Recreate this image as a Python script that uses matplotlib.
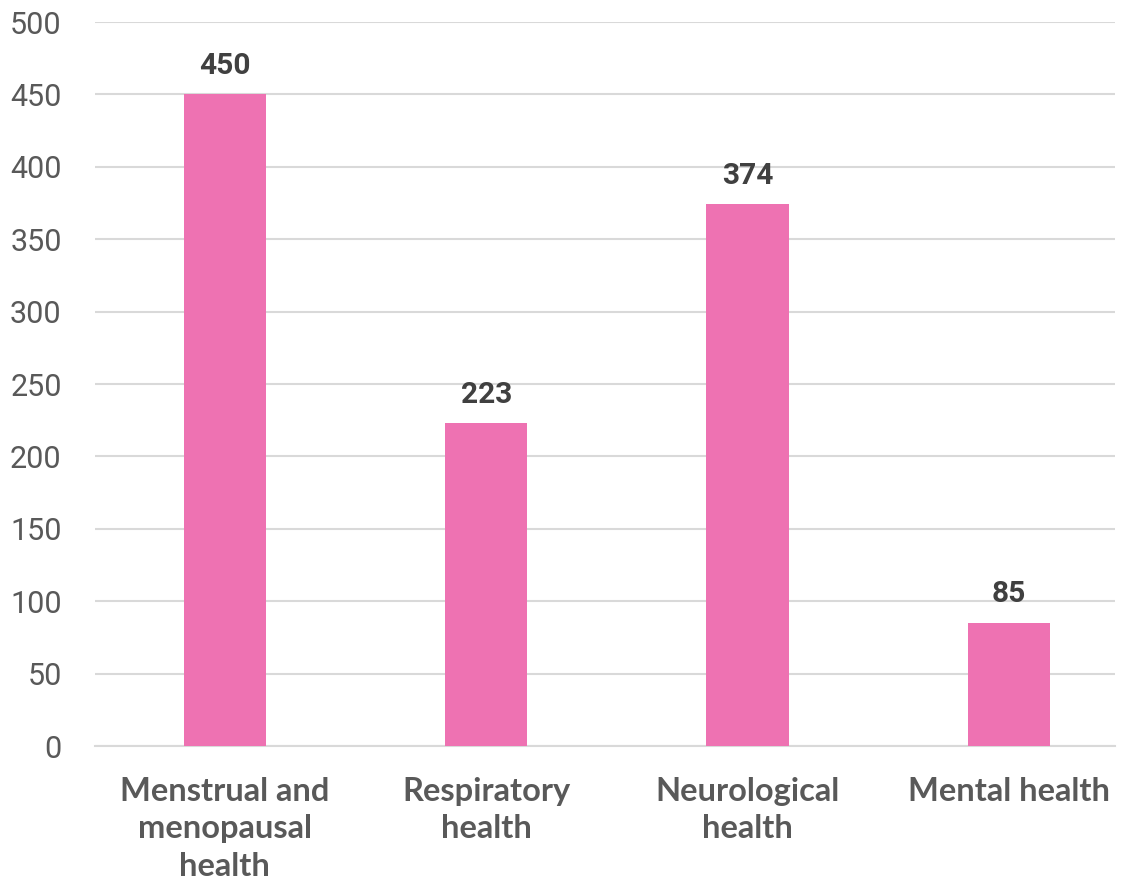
import matplotlib.pyplot as plt

categories = ['Menstrual and\nmenopausal\nhealth', 'Respiratory\nhealth',
              'Neurological\nhealth', 'Mental health']
values = [450, 223, 374, 85]
yticks = [0, 50, 100, 150, 200, 250, 300, 350, 400, 450, 500]

fig = plt.figure(figsize=(11.29, 8.81), dpi=100)
ax = fig.add_axes([95 / 1129, 1 - 746 / 881, 1020 / 1129, 724 / 881])

x = range(len(categories))
ax.bar(x, values, width=0.315, color='#EE72B2', zorder=3)
for xi, v in zip(x, values):
    ax.text(xi, v + 10, str(v), ha='center', va='bottom', fontsize=21.5,
            fontweight='bold', color='#404040', family='Roboto')

ax.set_ylim(0, 500)
ax.set_xlim(-0.497, 3.406)
ax.set_yticks(yticks)
ax.set_yticklabels([str(t) for t in yticks], family='Roboto',
                   fontsize=22, color='#595959')
ax.set_xticks(list(x))
ax.set_xticklabels(categories, family='Lato', fontweight='bold', fontsize=23.5,
                   color='#595959', linespacing=1.37, va='top')
ax.tick_params(axis='both', length=0)
ax.tick_params(axis='y', pad=24)
ax.tick_params(axis='x', pad=22)
ax.grid(axis='y', color='#D9D9D9', linewidth=1.5, zorder=0)
for s in ['top', 'right', 'left']:
    ax.spines[s].set_visible(False)
ax.spines['bottom'].set_color('#D9D9D9')
ax.spines['bottom'].set_linewidth(1.5)

plt.savefig('out.png', dpi=100)
